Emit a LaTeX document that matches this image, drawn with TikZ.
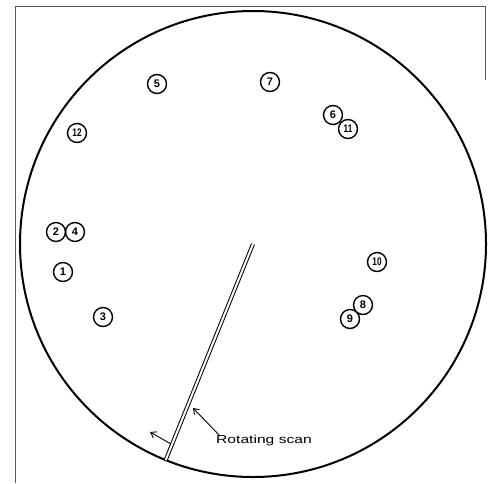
\documentclass[tikz,border=0pt]{standalone}
\usepackage{fontspec}
\setmainfont{Liberation Sans}
\usetikzlibrary{arrows.meta}
\begin{document}
\begin{tikzpicture}[x=1pt,y=-1pt,
  frameline/.style={draw=black!65, line width=0.9pt},
  dial/.style={circle, draw, line width=2pt, minimum size=466pt, inner sep=0pt, outer sep=0pt},
  blip/.style={circle, draw, line width=1.4pt, minimum size=19pt, inner sep=0pt, font=\fontsize{11}{11}\selectfont\bfseries},
  shaft/.style={draw, double distance=2pt, line width=1pt},
  pointer/.style={draw, line width=0.9pt, -{Straight Barb[length=5pt,width=7pt]}},
  lbl/.style={font=\fontsize{11.5}{11.5}\selectfont, inner sep=1pt}]
\useasboundingbox (0,0) rectangle (489,483);
% frame remnants
\draw[frameline] (15,483) -- (15,6) -- (485,6) -- (485,80);
% screen
\node[dial] (screen) at (253,244) {};
\coordinate (hub) at (253,244);
% blips
\node[blip] (b5) at (157,84) {5};
\node[blip] (b7) at (270,82) {7};
\node[blip] (b12) at (77,133) {\scalebox{0.75}[1]{12}};
\node[blip] (b6) at (333,115) {6};
\node[blip] (b11) at (348,129) {\scalebox{0.75}[1]{11}};
\node[blip] (b2) at (56,232) {2};
\node[blip] (b4) at (75,232) {4};
\node[blip] (b1) at (63,272) {1};
\node[blip] (b3) at (103,317) {3};
\node[blip] (b10) at (377,262) {\scalebox{0.75}[1]{10}};
\node[blip] (b8) at (363,305) {8};
\node[blip] (b9) at (350,319) {9};
% rotating scan
\path[shaft] (hub) -- (screen.248.4);
\coordinate (a1) at (171,444);
\coordinate (a2) at (150,432);
\draw[pointer] (a1) -- (a2);
\node[lbl] (label) at (264,441) {\scalebox{1.36}[1]{Rotating scan}};
\coordinate (l1) at (220,436);
\coordinate (l2) at (193,408);
\draw[pointer] (l1) -- (l2);
\end{tikzpicture}
\end{document}
